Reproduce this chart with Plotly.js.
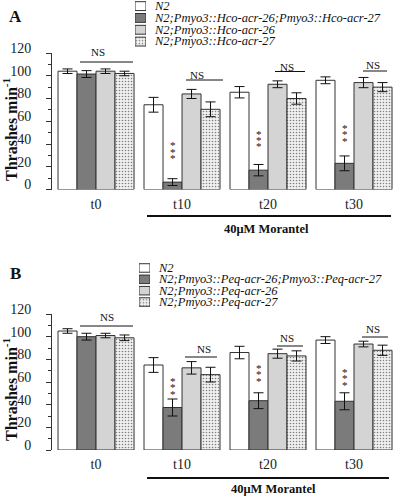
<!DOCTYPE html>
<html><head><meta charset="utf-8">
<script src="https://cdn.plot.ly/plotly-3.0.1.min.js"></script>
<style>html,body{margin:0;padding:0;background:#fff}#c{width:394px;height:500px}</style>
</head><body><div id="c"></div>
<script>
const categories = ['t0','t10','t20','t30'];
// Panel A (Hco)
const aN2 = [104, 74.5, 85.5, 96];      const aN2Err = [2, 6.5, 5, 3];
const aDual = [101.5, 6.5, 17, 23];     const aDualErr = [3, 3, 5, 6.5];
const a26 = [104, 84, 92.5, 94];        const a26Err = [2, 4, 3, 4.5];
const a27 = [102, 70.5, 80, 90];        const a27Err = [2, 6.5, 5, 4];
// Panel B (Peq)
const bN2 = [105, 75, 86, 97];          const bN2Err = [2, 6.5, 5.5, 3];
const bDual = [100, 37.5, 43.5, 43];    const bDualErr = [3, 7.5, 7, 7.5];
const b26 = [101, 72.5, 85, 93.5];      const b26Err = [2, 5.5, 4, 2.5];
const b27 = [99, 66.5, 83, 88];         const b27Err = [2.5, 6.5, 4.5, 4.5];
const legendA = ['N2','N2;Pmyo3::Hco-acr-26;Pmyo3::Hco-acr-27','N2;Pmyo3::Hco-acr-26','N2;Pmyo3::Hco-acr-27'];
const legendB = ['N2','N2;Pmyo3::Peq-acr-26;Pmyo3::Peq-acr-27','N2;Pmyo3::Peq-acr-26','N2;Pmyo3::Peq-acr-27'];

const FONT = 'Liberation Serif, Times New Roman, serif';
const W = 394, H = 500;
const px = x => x / W, py = y => 1 - y / H;
const fills = ['#ffffff', '#7b7b7b', '#d4d4d4', '#ffffff'];
const line = {color: '#333333', width: 1};
const DOTS = {shape: '.', size: 3, solidity: 0.22, fgcolor: '#808080', bgcolor: '#f0f0f0', fillmode: 'replace'};

function series(vals, errs, i, xa, ya, name) {
  const m = {color: fills[i], line: line};
  if (i === 3) m.pattern = DOTS;
  return {type: 'bar', x: categories, y: vals, name: name, xaxis: xa, yaxis: ya,
    marker: m, error_y: {type: 'data', array: errs, visible: true, color: '#111', thickness: 1, width: 5},
    showlegend: false, hoverinfo: 'skip'};
}
function swatch(i, xa, ya) {
  const m = {color: fills[i], line: line};
  if (i === 3) m.pattern = DOTS;
  return {type: 'bar', orientation: 'h', x: [1], y: [i], width: 0.75, offset: -0.375, xaxis: xa, yaxis: ya,
    marker: m, showlegend: false, hoverinfo: 'skip'};
}
const data = [
  series(aN2, aN2Err, 0, 'x', 'y', legendA[0]),
  series(aDual, aDualErr, 1, 'x', 'y', legendA[1]),
  series(a26, a26Err, 2, 'x', 'y', legendA[2]),
  series(a27, a27Err, 3, 'x', 'y', legendA[3]),
  series(bN2, bN2Err, 0, 'x2', 'y2', legendB[0]),
  series(bDual, bDualErr, 1, 'x2', 'y2', legendB[1]),
  series(b26, b26Err, 2, 'x2', 'y2', legendB[2]),
  series(b27, b27Err, 3, 'x2', 'y2', legendB[3])
];
[0,1,2,3].forEach(i => { data.push(swatch(i, 'x3', 'y3')); data.push(swatch(i, 'x4', 'y4')); });

const xax = (dom) => ({domain: dom, range: [-0.512, 3.465], showline: false, showgrid: false, zeroline: false,
  ticks: '', ticklabelstandoff: 4, tickfont: {family: FONT, size: 14, color: '#222'}, fixedrange: true});
const yax = (dom, anchor) => ({domain: dom, anchor: anchor, range: [0, 120], showline: true, linecolor: '#333', linewidth: 1,
  showgrid: false, zeroline: false, ticks: 'outside', ticklen: 5, tickcolor: '#333', dtick: 20, tick0: 0,
  minor: {dtick: 10, ticks: 'outside', ticklen: 3, tickcolor: '#333'},
  ticklabelstandoff: 12, ticklabelshift: -5, tickfont: {family: FONT, size: 14, color: '#222'}, fixedrange: true});

const annotations = [];
const shapes = [];
function txt(x, y, t, size, opts) {
  annotations.push(Object.assign({xref: 'paper', yref: 'paper', x: px(x), y: py(y), text: t, showarrow: false,
    font: {family: FONT, size: size, color: '#111'}, xanchor: 'center', yanchor: 'middle'}, opts || {}));
}
function hline(x0, x1, y, w) {
  shapes.push({type: 'line', xref: 'paper', yref: 'paper', x0: px(x0), x1: px(x1), y0: py(y), y1: py(y), line: {color: '#111', width: w || 1}});
}
// Panel letters and y titles
txt(15, 16, '<b>A</b>', 17);
txt(15, 273, '<b>B</b>', 17);
txt(10, 129, '<b>Thrashes min<sup>-1</sup></b>', 16, {textangle: -90});
txt(10, 389, '<b>Thrashes min<sup>-1</sup></b>', 16, {textangle: -90});
// Legends
[6, 17.8, 29.6, 41.5].forEach((y, i) => txt(152, y, '<i>' + legendA[i] + '</i>', 12.5, {xanchor: 'left'}));
[268, 279.3, 290.7, 302].forEach((y, i) => txt(156, y, '<i>' + legendB[i] + '</i>', 12.5, {xanchor: 'left'}));
// NS markers A
[[97.5, 52, 80, 133, 62], [197, 75, 186, 223, 80], [287, 67, 275, 305, 71.5], [373, 65, 363, 387, 71]].forEach(n => {
  txt(n[0], n[1], 'NS', 11); hline(n[2], n[3], n[4]);
});
// NS markers B
[[106.5, 317, 80, 133, 326], [204, 349, 185, 217, 357], [287, 338, 277, 303, 346], [373, 329, 362, 388, 337]].forEach(n => {
  txt(n[0], n[1], 'NS', 11); hline(n[2], n[3], n[4]);
});
// significance stars: vertical stack of three asterisks
[[172.5, 149], [258.5, 137], [344.5, 131], [172.5, 384], [258.5, 371], [344.5, 375]].forEach(s => {
  [-6.5, 0, 6.5].forEach(d => txt(s[0], s[1] + d + 3, '*', 11));
});
// Morantel
hline(147, 391, 216, 2); txt(266, 229, '<b>40μM Morantel</b>', 12.5);
hline(147, 389, 478, 2); txt(273, 489, '<b>40μM Morantel</b>', 12.5);

const layout = {
  width: W, height: H, margin: {l: 0, r: 0, t: 0, b: 0}, paper_bgcolor: '#fff', plot_bgcolor: 'rgba(0,0,0,0)',
  barmode: 'group', bargap: 0.116, bargroupgap: 0, showlegend: false,
  xaxis: Object.assign(xax([52 / W, 1]), {anchor: 'y'}),
  yaxis: yax([py(189.5), py(53)], 'x'),
  xaxis2: Object.assign(xax([52 / W, 1]), {anchor: 'y2'}),
  yaxis2: yax([py(450), py(314)], 'x2'),
  xaxis3: {domain: [px(135), px(146)], range: [0, 1], visible: false, anchor: 'y3', fixedrange: true},
  yaxis3: {domain: [py(47.5), py(0.2)], range: [3.5, -0.5], visible: false, anchor: 'x3', fixedrange: true},
  xaxis4: {domain: [px(139), px(150)], range: [0, 1], visible: false, anchor: 'y4', fixedrange: true},
  yaxis4: {domain: [py(307.7), py(262.3)], range: [3.5, -0.5], visible: false, anchor: 'x4', fixedrange: true},
  annotations: annotations, shapes: shapes,
  font: {family: FONT}
};
Plotly.newPlot('c', data, layout, {displayModeBar: false, staticPlot: true});
</script></body></html>
